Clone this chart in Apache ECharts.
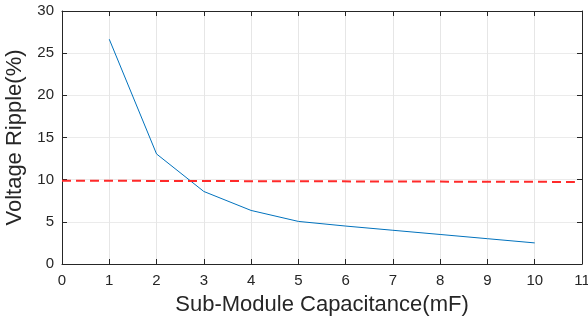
<!DOCTYPE html>
<html><head><meta charset="utf-8">
<script src="https://cdn.jsdelivr.net/npm/echarts@6/dist/echarts.min.js"></script>
<style>html,body{margin:0;padding:0;background:#fff;overflow:hidden}#c{width:588px;height:318px}</style>
</head><body><div id="c"></div>
<script>
const capacitance = [1, 2, 3, 4, 5, 6, 7, 8, 9, 10];
const ripple = [26.65, 13.05, 8.6, 6.35, 5.05, 4.5, 4.0, 3.5, 3.0, 2.5];
const limitX = [0, 10.85];
const limitY = [9.88, 9.73];
const xTicks = [0, 1, 2, 3, 4, 5, 6, 7, 8, 9, 10, 11];
const yTicks = [0, 5, 10, 15, 20, 25, 30];

const axisCol = '#262626';
const font = 'Liberation Sans, Arial, sans-serif';
const chart = echarts.init(document.getElementById('c'));
const baseX = {
  type: 'value', min: xTicks[0], max: xTicks[xTicks.length - 1], interval: 1,
  axisLine: { onZero: false, lineStyle: { color: axisCol, width: 1 } },
  axisTick: { inside: true, length: 5, lineStyle: { color: axisCol } },
  splitLine: { show: false }
};
const baseY = {
  type: 'value', min: yTicks[0], max: yTicks[yTicks.length - 1], interval: 5,
  axisLine: { onZero: false, lineStyle: { color: axisCol, width: 1 } },
  axisTick: { inside: true, length: 5, lineStyle: { color: axisCol } },
  splitLine: { show: false }
};
chart.setOption({
  animation: false,
  grid: { left: 62, top: 11, right: 6, bottom: 54, containLabel: false, outerBoundsMode: 'none' },
  xAxis: [
    Object.assign({}, baseX, {
      position: 'bottom',
      name: 'Sub-Module Capacitance(mF)', nameLocation: 'middle', nameGap: 30,
      nameTextStyle: { color: axisCol, fontSize: 22, fontFamily: font },
      axisLabel: { color: axisCol, fontSize: 15, fontFamily: font, margin: 9 },
      splitLine: { show: true, lineStyle: { color: '#e6e6e6', width: 1 } }
    }),
    Object.assign({}, baseX, { position: 'top', axisLabel: { show: false } })
  ],
  yAxis: [
    Object.assign({}, baseY, {
      position: 'left',
      name: 'Voltage Ripple(%)', nameLocation: 'middle', nameGap: 26,
      nameTextStyle: { color: axisCol, fontSize: 22, fontFamily: font },
      axisLabel: { color: axisCol, fontSize: 15, fontFamily: font, margin: 8 },
      splitLine: { show: true, lineStyle: { color: '#ebebeb', width: 1 } }
    }),
    Object.assign({}, baseY, { position: 'right', axisLabel: { show: false } })
  ],
  series: [
    {
      type: 'line', xAxisIndex: 0, yAxisIndex: 0, symbol: 'none',
      data: capacitance.map((c, i) => [c, ripple[i]]),
      lineStyle: { color: '#0072BD', width: 1 }
    },
    {
      type: 'line', xAxisIndex: 0, yAxisIndex: 0, symbol: 'none',
      data: limitX.map((x, i) => [x, limitY[i]]),
      lineStyle: { color: '#ff2a2a', width: 2, type: [9, 5] }
    }
  ]
});
</script></body></html>
